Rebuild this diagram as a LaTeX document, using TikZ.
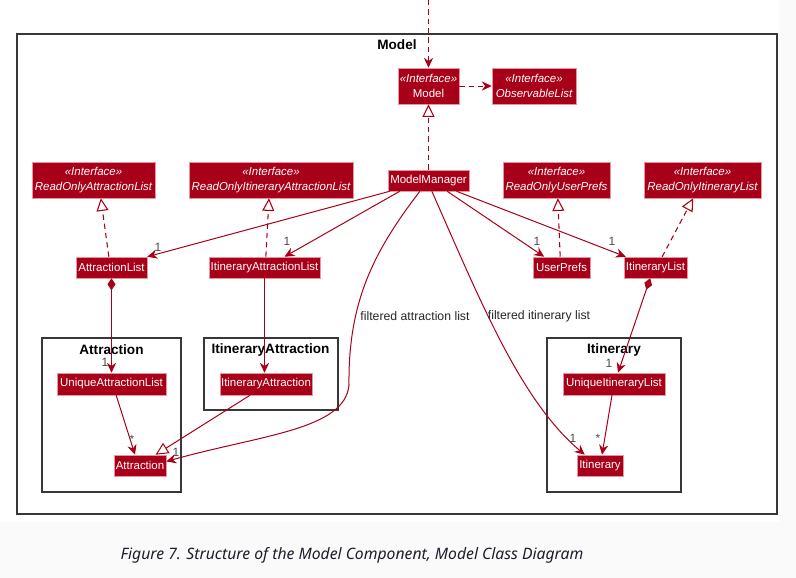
\documentclass[tikz,border=0pt]{standalone}
\usepackage{fontspec}
\setmainfont{Liberation Sans}
\newfontfamily\capfont{Noto Sans}
\usepackage{tikz}
\usetikzlibrary{arrows.meta}
\definecolor{umlred}{RGB}{168,0,24}
\definecolor{umledge}{RGB}{230,150,160}
\definecolor{framegray}{RGB}{55,55,55}
\definecolor{pagegray}{RGB}{250,250,250}
\definecolor{captext}{RGB}{30,30,45}

\begin{document}
\begin{tikzpicture}[x=0.75pt,y=-0.75pt,
  cls/.style={draw=umledge, line width=0.4pt, fill=umlred, text=white, inner sep=0pt, minimum height=15.75pt, font=\fontsize{8.6}{10}\selectfont},
  iface/.style={cls, minimum height=27pt, align=center, font=\fontsize{8.6}{11}\selectfont\itshape},
  pkg/.style={draw=framegray, line width=1.1pt},
  ttl/.style={inner sep=0pt, font=\fontsize{10.2}{12}\selectfont\bfseries},
  assoc/.style={umlred, line width=0.75pt, -{Stealth[length=7.5pt,width=7pt,inset=2.5pt]}},
  comp/.style={umlred, line width=0.75pt, {Diamond[length=9pt,width=6pt]}-{Stealth[length=7.5pt,width=7pt,inset=2.5pt]}},
  dep/.style={umlred, line width=0.75pt, dash pattern=on 4pt off 3pt, -{Stealth[length=7.5pt,width=7pt,inset=2.5pt]}},
  real/.style={umlred, line width=0.8pt, dash pattern=on 4pt off 3pt, -{Triangle[fill=white,length=9.5pt,width=9pt]}},
  gen/.style={umlred, line width=0.75pt, -{Triangle[fill=white,length=9.5pt,width=9pt]}},
  mult/.style={text=black!70, inner sep=0pt, font=\fontsize{9}{10}\selectfont},
  lbl/.style={text=black!85, inner sep=0pt, font=\fontsize{9.2}{11}\selectfont}]
\useasboundingbox (0,0) rectangle (796,578);
\fill[pagegray] (0,0) rectangle (796,578);
\fill[white] (0,0) rectangle (779,522);

\draw[pkg] (17,34) rectangle (777,514);
\node[ttl] (tmodel) at (397,45) {Model};
\draw[pkg] (42,338) rectangle (181,492);
\node[ttl] (tattr) at (111.5,350) {Attraction};
\draw[pkg] (204,338) rectangle (338,410);
\node[ttl] (titat) at (270.5,350) {ItineraryAttraction};
\draw[pkg] (547,338) rectangle (681,492);
\node[ttl] (titin) at (614,350) {Itinerary};

\node[iface, minimum width=45.75pt] (mdl) at (428.5,86) {«Interface»\\\upshape Model};
\node[iface, minimum width=63pt] (obs) at (534,86) {«Interface»\\ObservableList};
\node[cls, minimum width=60.75pt] (mm) at (428.5,180.5) {ModelManager};
\node[iface, minimum width=92.25pt] (roal) at (93.5,180) {«Interface»\\ReadOnlyAttractionList};
\node[iface, minimum width=123pt] (roial) at (271,180) {«Interface»\\ReadOnlyItineraryAttractionList};
\node[iface, minimum width=80.25pt] (roup) at (556.5,180) {«Interface»\\ReadOnlyUserPrefs};
\node[iface, minimum width=87.75pt] (roil) at (702.5,180) {«Interface»\\ReadOnlyItineraryList};
\node[cls, minimum width=53.25pt] (al) at (111.5,267.5) {AttractionList};
\node[cls, minimum width=83.25pt] (ial) at (264.5,267.5) {ItineraryAttractionList};
\node[cls, minimum width=42.75pt] (up) at (561.5,267.5) {UserPrefs};
\node[cls, minimum width=47.25pt] (il) at (655.5,267.5) {ItineraryList};
\node[cls, minimum width=81.75pt, minimum height=16.5pt] (ual) at (111.5,384) {UniqueAttractionList};
\node[cls, minimum width=69pt, minimum height=16.5pt] (ia) at (266,384) {ItineraryAttraction};
\node[cls, minimum width=76.5pt, minimum height=16.5pt] (uil) at (614,384) {UniqueItineraryList};
\node[cls, minimum width=39pt] (att) at (140,465.5) {Attraction};
\node[cls, minimum width=34.5pt] (itn) at (600,465.5) {Itinerary};

\coordinate (ext) at (428.5,0);
\draw[dep] (ext) -- (mdl);
\draw[dep] (mdl) -- (obs);
\draw[real] (mm) -- (mdl);
\draw[real] ([xshift=-2pt]al.north) -- ([xshift=5.5pt]roal.south);
\draw[real] ([xshift=1pt]ial.north) -- ([xshift=-1.5pt]roial.south);
\draw[real] ([xshift=-1pt]up.north) -- ([xshift=1pt]roup.south);
\draw[real] ([xshift=5pt]il.north) -- ([xshift=-7pt]roil.south);

\draw[assoc] ([xshift=1.5pt]mm.south west) -- (al.north east);
\draw[assoc] ([xshift=9pt]mm.south west) -- ([xshift=15pt]ial.north);
\draw[assoc] ([xshift=14pt]mm.south) -- ([xshift=-13pt]up.north);
\draw[assoc] ([xshift=21pt]mm.south) -- ([xshift=1.5pt]il.north west);
\draw[assoc] ([xshift=-6.5pt]mm.south) .. controls (375,250) and (348,300) .. (349,385) .. controls (345,430) and (260,435) .. ([yshift=3pt]att.east);
\draw[assoc] ([xshift=2.5pt]mm.south) .. controls (480,300) and (520,400) .. ([xshift=6pt]itn.north west);
\node[lbl] (fal) at (415,316) {filtered attraction list};
\node[lbl] (fil) at (539,316) {filtered itinerary list};

\draw[comp] (al) -- (ual);
\draw[comp] ([xshift=-4pt]il.south) -- ([xshift=3pt]uil.north);
\draw[assoc] (ial.south) -- (ial.south |- ia.north);
\draw[assoc] ([xshift=3.5pt]ual.south) -- ([xshift=-3.75pt]att.north);
\draw[gen] ([xshift=-12pt]ia.south) -- ([xshift=-8pt]att.north east);
\draw[assoc] ([xshift=-1.5pt]uil.south) -- ([xshift=1.5pt]itn.north);

\node[mult] (m1) at (158,247) {1};
\node[mult] (m2) at (287,241) {1};
\node[mult] (m3) at (537,241) {1};
\node[mult] (m4) at (612,241) {1};
\node[mult] (m5) at (105,362) {1};
\node[mult] (m6) at (609,363) {1};
\node[mult] (m7) at (132,439) {*};
\node[mult] (m8) at (176,452) {1};
\node[mult] (m9) at (573,438) {1};
\node[mult] (m10) at (598,438) {*};

\node[text=captext, font=\capfont\itshape\fontsize{11.8}{14}\selectfont] (cap) at (352,555) {Figure 7. Structure of the Model Component, Model Class Diagram};
\end{tikzpicture}
\end{document}
